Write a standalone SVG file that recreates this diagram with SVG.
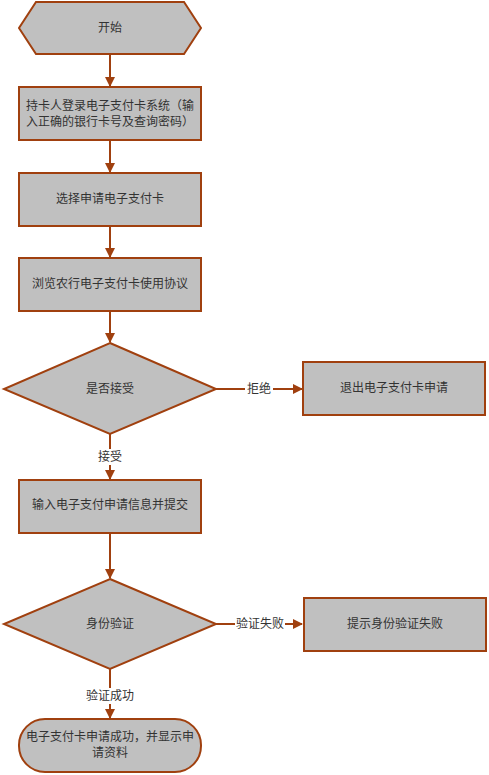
<svg xmlns="http://www.w3.org/2000/svg" width="489" height="775" viewBox="0 0 489 775">
<style>
.n{fill:#c0c0c0;stroke:#a0400f;stroke-width:2}
.t{font-family:"Liberation Sans","Noto Sans CJK SC",sans-serif;font-size:12px;fill:#333;text-anchor:middle;dominant-baseline:central}
.c{stroke:#a0400f;stroke-width:2;fill:none}
.lb{fill:#fff}
</style>
<defs>
<marker id="ah" viewBox="0 0 10 10" refX="9" refY="5" markerWidth="10" markerHeight="10" markerUnits="userSpaceOnUse" orient="auto">
<path d="M0,0 L10,5 L0,10 z" fill="#a0400f"/>
</marker>
</defs>
<rect width="489" height="775" fill="#fff"/>
<g id="connectors">
<line class="c" x1="110" y1="55" x2="110" y2="86" marker-end="url(#ah)"/>
<line class="c" x1="110" y1="141" x2="110" y2="172" marker-end="url(#ah)"/>
<line class="c" x1="110" y1="227" x2="110" y2="257" marker-end="url(#ah)"/>
<line class="c" x1="110" y1="312" x2="110" y2="342" marker-end="url(#ah)"/>
<line class="c" x1="216" y1="389" x2="302" y2="389" marker-end="url(#ah)"/>
<line class="c" x1="110" y1="434" x2="110" y2="479" marker-end="url(#ah)"/>
<line class="c" x1="110" y1="534" x2="110" y2="578" marker-end="url(#ah)"/>
<line class="c" x1="216" y1="624" x2="302" y2="624" marker-end="url(#ah)"/>
<line class="c" x1="110" y1="669" x2="110" y2="718" marker-end="url(#ah)"/>
<rect class="lb" x="245" y="381" width="28" height="16"/>
<text class="t" x="259" y="389">拒绝</text>
<rect class="lb" x="96" y="449" width="28" height="16"/>
<text class="t" x="110" y="457">接受</text>
<rect class="lb" x="235" y="616" width="50" height="16"/>
<text class="t" x="260" y="624">验证失败</text>
<rect class="lb" x="84" y="688" width="52" height="16"/>
<text class="t" x="110" y="696">验证成功</text>
</g>
<g id="start">
<polygon class="n" points="36,2 184,2 201,28 184,54 36,54 19,28"/>
<text class="t" x="110" y="28">开始</text>
</g>
<g id="login">
<rect class="n" x="19" y="87" width="182" height="53"/>
<text class="t" x="110" y="106">持卡人登录电子支付卡系统（输</text>
<text class="t" x="110" y="122">入正确的银行卡号及查询密码）</text>
</g>
<g id="select">
<rect class="n" x="19" y="173" width="182" height="53"/>
<text class="t" x="110" y="199">选择申请电子支付卡</text>
</g>
<g id="browse">
<rect class="n" x="19" y="258" width="182" height="53"/>
<text class="t" x="110" y="284">浏览农行电子支付卡使用协议</text>
</g>
<g id="accept">
<polygon class="n" points="110,343 216,389 110,434 4,389"/>
<text class="t" x="110" y="389">是否接受</text>
</g>
<g id="exit">
<rect class="n" x="303" y="362" width="182" height="53"/>
<text class="t" x="394" y="388">退出电子支付卡申请</text>
</g>
<g id="input">
<rect class="n" x="19" y="480" width="182" height="53"/>
<text class="t" x="110" y="505">输入电子支付申请信息并提交</text>
</g>
<g id="verify">
<polygon class="n" points="110,579 216,624 110,669 4,624"/>
<text class="t" x="110" y="624">身份验证</text>
</g>
<g id="fail">
<rect class="n" x="304" y="598" width="182" height="53"/>
<text class="t" x="395" y="624">提示身份验证失败</text>
</g>
<g id="success">
<rect class="n" x="19" y="719" width="182" height="53" rx="26" ry="26"/>
<text class="t" x="110" y="737">电子支付卡申请成功，并显示申</text>
<text class="t" x="110" y="753">请资料</text>
</g>
</svg>
